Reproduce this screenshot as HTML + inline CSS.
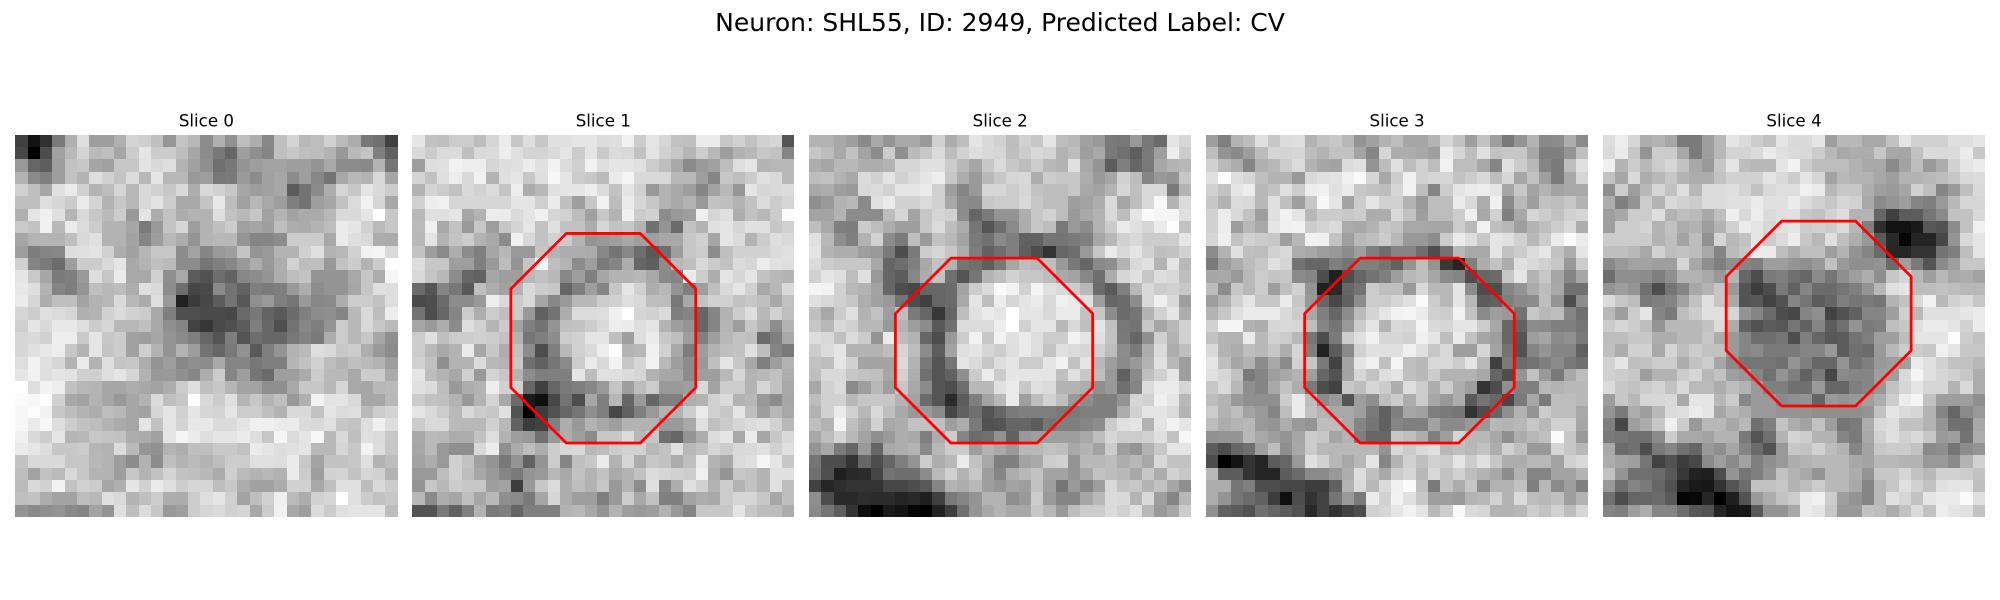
<!DOCTYPE html>
<html>
<head>
<meta charset="utf-8">
<title>Neuron slices</title>
<style>
html,body{margin:0;padding:0;background:#fff;width:2000px;height:600px;overflow:hidden}
svg{display:block}
text{font-family:"DejaVu Sans",sans-serif;fill:#000}
</style>
</head>
<body>
<svg id="figure" xmlns="http://www.w3.org/2000/svg" width="2000" height="600" viewBox="0 0 2000 600">
<rect x="0" y="0" width="2000" height="600" fill="#fff"/>
<text x="1000" y="31" text-anchor="middle" font-size="25">Neuron: SHL55, ID: 2949, Predicted Label: CV</text>
</svg>
<script>
const sliceTitles=["Slice 0","Slice 1","Slice 2","Slice 3","Slice 4"];
const slice0=[
[25,7,19,48,69,87,62,62,69,83,81,75,59,77,72,55,69,57,74,68,53,75,83,72,74,82,73,68,47,44,25],
[28,0,30,63,72,83,73,75,65,80,90,80,80,74,65,55,47,40,62,56,52,75,78,75,74,70,60,73,77,50,38],
[60,40,37,62,76,78,65,63,78,78,89,85,87,70,63,56,44,47,58,62,64,64,62,62,58,66,55,55,54,70,46],
[70,54,50,62,76,70,87,82,77,86,72,90,72,72,60,62,47,48,60,55,63,66,55,62,53,45,66,72,70,85,65],
[82,75,65,88,92,82,70,74,84,72,85,82,78,85,68,85,82,78,65,62,63,66,36,45,54,68,84,78,90,85,80],
[75,75,87,84,80,92,83,70,78,72,85,89,80,66,66,77,91,74,63,72,66,62,50,45,62,65,76,86,95,84,66],
[69,90,94,88,71,85,78,73,80,60,90,68,76,68,70,70,87,76,72,78,63,70,64,67,67,72,85,85,90,100,78],
[79,76,94,72,92,86,80,70,70,65,48,60,77,84,62,70,75,80,63,65,62,74,68,67,70,74,92,90,82,73,78],
[65,70,70,70,75,85,88,70,70,64,52,62,72,68,58,70,72,72,58,52,52,55,80,80,80,66,92,87,85,68,67],
[62,49,52,53,87,88,89,82,68,63,71,78,78,55,64,52,60,62,77,58,60,70,70,82,88,70,72,82,95,96,85],
[82,52,48,42,62,80,80,85,90,66,70,75,73,55,55,46,50,53,60,68,60,68,82,74,75,60,76,80,70,80,100],
[90,79,65,48,50,60,87,78,92,66,66,82,56,66,36,32,43,39,53,55,58,68,74,77,58,58,58,66,78,68,96],
[91,87,70,52,49,58,75,72,74,68,88,85,55,43,28,29,54,45,39,50,48,50,60,68,55,58,58,65,78,88,87],
[92,84,68,75,75,64,70,72,85,72,67,87,60,13,23,28,36,45,34,56,60,50,46,60,53,54,68,80,80,76,87],
[84,80,88,86,84,69,70,82,86,82,80,66,50,31,31,29,29,28,41,47,39,35,42,50,55,56,52,72,85,74,93],
[81,90,85,91,91,87,80,84,72,72,75,66,56,52,26,21,29,31,36,50,40,31,45,53,50,58,80,72,85,78,73],
[84,85,82,93,93,79,90,78,80,63,62,65,58,54,50,40,33,49,33,43,40,40,47,51,48,68,80,72,78,65,56],
[84,88,91,93,78,70,90,77,80,63,81,70,58,70,61,45,40,47,57,35,50,58,70,73,87,85,78,80,68,60,55],
[87,95,88,84,70,92,70,87,77,78,68,58,62,53,56,55,66,52,52,47,50,50,71,76,82,74,70,75,73,70,62],
[90,95,87,90,89,81,81,87,90,84,70,60,60,56,53,68,80,52,62,46,42,62,62,67,80,73,72,66,80,80,67],
[100,87,95,93,76,72,71,65,65,68,66,64,68,80,87,75,78,71,64,64,56,56,66,78,78,72,84,66,65,72,73],
[98,97,99,82,66,64,70,65,60,65,70,86,75,78,100,85,80,88,71,78,70,75,60,69,95,89,90,85,65,65,72],
[97,99,95,78,74,70,68,74,72,65,64,84,90,82,90,84,83,90,80,80,75,70,85,85,76,90,86,87,73,80,83],
[97,92,97,87,80,76,74,70,67,65,90,76,90,83,91,91,86,86,90,94,94,92,92,86,85,88,78,76,87,94,87],
[94,85,80,90,71,72,78,77,76,68,67,63,90,96,92,87,90,90,92,87,78,96,86,90,97,72,85,75,88,86,78],
[92,90,87,78,78,80,71,70,86,73,59,57,70,68,75,75,79,79,76,92,90,87,88,90,72,72,84,78,95,87,78],
[76,85,85,85,78,78,72,70,62,55,70,55,75,70,73,70,74,80,80,88,88,87,92,78,64,76,76,78,88,70,74],
[74,64,76,73,85,78,70,70,62,78,70,76,83,76,75,72,67,81,73,70,72,70,92,80,62,82,83,76,84,82,70],
[73,85,82,95,76,82,80,65,69,90,82,92,87,80,84,84,74,78,68,63,63,68,82,82,66,75,88,88,74,85,80],
[75,76,68,64,64,74,72,88,85,70,75,80,68,67,80,87,90,82,64,75,82,94,73,68,82,84,100,88,80,76,78],
[58,54,56,58,54,52,64,58,88,75,86,78,60,62,80,84,86,82,84,66,80,95,66,62,86,80,88,90,90,90,74]
];
const slice1=[
[90,76,75,80,80,74,84,92,78,87,78,88,88,90,90,86,87,94,80,90,84,76,75,92,92,78,82,76,82,84,33],
[85,80,86,86,75,85,86,93,88,83,83,86,90,80,90,79,86,85,76,89,82,78,71,80,72,62,70,72,78,76,52],
[62,87,88,95,93,93,84,87,88,93,88,95,86,81,95,87,90,90,88,80,75,66,54,60,63,74,87,90,70,72,72],
[83,76,87,93,85,95,70,88,90,78,87,97,90,80,78,73,92,96,85,85,85,72,72,62,52,78,75,80,88,85,72],
[70,83,80,76,85,82,86,77,93,68,72,88,90,90,93,86,76,90,82,60,70,66,62,52,64,72,59,90,84,85,86],
[82,93,94,84,84,84,84,84,90,90,81,92,75,62,78,95,74,92,84,78,70,66,70,60,76,75,70,76,86,80,84],
[72,88,88,90,65,70,93,92,86,90,94,84,82,74,63,78,70,94,80,82,55,60,62,94,84,88,68,76,72,80,99],
[73,94,66,76,60,78,62,78,83,90,76,88,76,76,68,84,76,78,70,44,58,42,76,70,88,90,84,88,88,78,82],
[72,90,70,77,80,70,66,55,94,85,76,82,80,70,58,60,62,66,62,62,66,66,78,82,65,90,86,70,80,87,85],
[76,62,54,68,55,50,65,72,60,60,78,70,68,68,67,53,46,53,43,35,43,62,78,80,55,75,82,82,82,86,88],
[87,78,78,62,62,50,60,74,58,78,95,75,70,55,62,48,52,68,40,37,55,72,75,85,80,76,86,84,92,88,87],
[85,77,72,55,40,38,65,62,62,72,76,72,53,62,50,65,70,70,72,66,54,52,92,80,68,90,84,90,76,72,70],
[42,33,52,47,35,75,68,63,70,85,80,78,40,50,62,52,78,90,82,68,72,58,50,62,75,85,90,82,66,72,85],
[29,30,42,55,55,60,93,85,80,85,65,53,60,72,72,80,82,87,85,74,74,47,66,76,82,82,76,78,75,66,76],
[45,30,40,52,80,68,80,75,80,60,38,45,68,86,86,87,94,100,84,82,86,50,52,40,52,70,80,87,72,82,75],
[65,60,68,55,87,82,71,80,64,50,45,58,75,76,80,85,93,92,87,90,70,62,58,40,52,71,62,78,70,55,70],
[80,88,75,80,80,82,80,76,70,46,50,55,80,82,90,90,75,62,87,92,78,75,62,50,62,72,76,75,42,50,66],
[80,72,66,70,92,65,78,68,76,55,30,50,72,82,85,93,99,70,72,94,82,66,49,62,70,75,76,88,74,52,48],
[82,76,56,70,70,86,72,70,78,44,38,46,54,80,92,85,95,78,84,95,72,62,55,60,75,90,78,66,50,62,70],
[90,74,70,66,82,60,83,78,70,55,50,50,50,90,74,88,88,86,84,70,66,65,55,62,62,72,84,70,72,76,68],
[88,86,74,60,68,70,93,82,82,40,25,40,48,50,53,60,77,62,74,80,60,60,62,85,64,80,80,70,84,76,66],
[80,76,75,70,60,70,83,66,42,10,6,28,45,30,65,50,72,40,60,40,50,50,68,70,82,86,70,72,60,55,65],
[90,85,80,72,85,80,78,88,32,0,24,32,40,46,56,50,28,38,50,60,70,70,80,92,82,78,90,75,62,72,66],
[80,85,85,73,72,72,82,72,38,23,25,50,68,60,70,66,62,70,70,70,60,60,66,88,75,80,84,86,88,82,72],
[66,73,72,68,68,76,87,70,62,60,44,60,68,62,54,78,78,86,72,78,44,40,58,68,86,90,66,92,65,78,85],
[65,72,60,56,56,85,93,56,67,74,68,80,84,85,72,74,80,82,82,72,76,88,72,76,84,80,85,85,88,82,88],
[64,68,60,82,76,63,58,47,58,38,58,80,52,75,78,92,70,84,68,78,76,68,75,92,70,66,86,88,96,90,78],
[60,60,74,82,74,66,60,52,48,58,60,72,66,76,70,76,67,70,76,86,84,82,80,94,68,58,78,76,70,88,88],
[58,78,72,80,78,78,62,64,24,60,78,86,68,74,70,78,60,70,55,88,52,68,88,82,70,80,70,76,70,88,74],
[72,54,68,65,75,65,72,56,54,48,65,84,68,62,62,50,60,80,66,76,50,50,64,68,66,80,84,84,78,65,74],
[32,32,48,38,50,70,48,50,40,50,50,50,70,72,66,58,70,62,60,62,70,60,52,78,78,78,90,78,74,74,68]
];
const slice2=[
[70,70,66,62,54,66,58,66,66,60,82,68,74,90,85,82,74,82,78,90,74,72,63,60,48,47,60,47,42,90,84],
[78,74,66,76,64,55,80,56,73,78,86,74,82,87,85,84,75,80,85,83,70,74,62,66,48,44,37,48,62,93,80],
[68,65,72,72,68,68,70,84,84,88,88,80,72,65,78,85,78,74,80,72,70,88,66,58,36,50,40,48,66,70,72],
[74,76,70,66,86,82,90,82,86,90,93,78,68,60,72,78,84,85,68,80,78,78,68,60,65,82,74,52,60,58,78],
[66,68,62,60,85,86,82,90,90,92,82,62,52,60,84,84,80,84,76,74,74,78,66,64,70,84,75,85,85,48,70],
[56,60,70,72,54,88,92,82,82,86,82,66,55,54,78,80,80,85,78,74,74,62,64,68,86,65,74,85,97,70,86],
[64,64,70,55,55,55,74,84,64,78,84,82,55,40,48,58,58,68,78,82,74,60,66,70,85,74,90,98,96,96,88],
[74,66,50,49,80,74,68,62,62,78,86,74,67,46,33,43,54,68,78,74,47,60,55,70,80,92,88,84,92,99,76],
[88,72,56,50,70,82,55,48,75,60,76,72,64,48,44,54,50,38,38,46,46,48,50,65,72,82,85,80,80,80,90],
[90,70,68,68,62,60,48,30,48,80,84,78,68,49,38,43,50,37,30,20,40,43,60,78,92,85,90,82,75,76,82],
[86,80,78,78,78,66,40,43,50,66,76,70,46,43,37,47,65,74,72,74,60,47,40,54,56,70,85,88,70,90,72],
[82,90,87,74,88,60,40,36,53,68,76,44,33,46,70,75,82,78,78,74,66,64,53,43,68,84,88,78,87,85,75],
[96,95,82,72,70,64,40,30,28,40,40,42,64,80,86,98,95,82,96,88,85,80,72,42,35,50,72,85,80,82,78],
[88,85,82,78,68,63,60,45,30,25,40,42,66,90,74,93,84,90,92,85,94,92,88,62,40,42,55,85,94,85,62],
[75,66,80,88,70,76,62,74,48,40,22,40,74,88,92,90,100,90,90,85,92,92,76,78,55,42,46,70,82,90,68],
[78,72,85,82,72,72,60,70,62,55,35,44,86,86,86,93,100,82,90,90,72,85,75,90,76,47,45,78,65,72,82],
[87,85,75,86,80,58,92,74,70,40,30,60,80,95,78,95,88,92,87,80,80,95,90,88,76,48,40,56,82,70,82],
[80,86,90,70,70,70,74,84,74,55,37,64,88,90,84,80,87,92,87,77,88,86,84,82,74,55,48,68,86,68,75],
[76,74,90,82,64,64,64,86,70,47,33,46,90,86,78,87,90,80,80,90,95,76,90,72,62,54,60,70,88,72,62],
[75,85,85,78,76,75,65,82,68,44,33,38,56,80,92,80,90,90,90,90,75,88,78,75,60,38,54,75,82,90,62],
[66,82,86,54,62,72,62,78,66,54,33,30,43,72,72,88,92,78,88,86,70,70,68,56,60,44,52,86,92,92,84],
[74,82,82,72,78,78,78,70,64,42,33,17,36,50,64,72,92,62,74,82,75,60,55,50,50,58,84,82,94,90,72],
[70,82,92,82,72,85,75,66,60,60,54,28,38,44,33,40,48,50,50,50,48,48,50,50,50,68,82,90,90,86,70],
[75,70,96,75,68,82,66,68,76,76,75,62,68,48,32,33,40,40,36,46,50,50,52,55,80,88,90,70,90,95,90],
[66,74,83,72,64,56,60,68,66,50,68,80,52,42,44,57,38,60,62,62,62,62,66,74,84,80,80,82,88,76,97],
[58,66,48,40,60,40,66,68,70,54,72,80,80,62,70,66,60,72,72,76,74,66,70,64,80,62,58,70,78,90,90],
[46,30,30,20,40,30,40,50,58,80,68,72,92,76,66,50,50,64,66,80,82,58,72,72,74,68,72,66,85,76,76],
[44,31,12,16,17,27,45,43,43,55,73,82,70,78,62,52,68,72,76,64,64,58,66,76,74,72,66,78,68,82,78],
[26,15,18,20,20,20,28,28,30,35,52,70,68,72,62,58,64,62,76,62,46,60,52,62,85,76,78,70,76,65,56],
[56,30,16,16,18,17,17,14,16,12,25,48,52,58,70,70,56,60,80,60,52,52,65,72,86,85,70,85,62,52,72],
[54,46,37,20,5,0,10,8,2,0,13,24,44,58,66,70,66,66,78,72,60,74,80,80,86,82,88,72,60,65,80]
];
const slice3=[
[62,50,70,74,88,78,86,87,70,76,78,72,58,63,70,74,65,65,70,84,76,62,76,62,47,58,70,54,55,68,54],
[74,58,54,62,74,84,83,84,74,70,76,76,64,52,84,68,68,66,62,92,84,74,88,76,78,78,66,50,50,58,75],
[82,73,68,52,69,72,80,86,70,65,64,86,88,58,74,88,74,82,74,95,74,74,66,52,88,80,72,52,48,74,88],
[88,99,87,84,75,70,70,60,85,88,89,94,98,84,66,80,94,82,84,84,76,80,85,74,84,65,76,62,48,66,84],
[82,76,90,93,72,76,88,80,93,94,88,92,78,76,74,84,95,74,52,80,90,92,93,90,65,78,64,70,64,66,66],
[78,70,86,85,72,88,75,62,78,97,90,64,80,90,82,82,70,60,74,74,92,85,68,94,54,72,62,76,74,78,70],
[82,93,85,76,62,88,95,90,72,80,80,78,80,68,68,85,76,62,74,74,80,94,66,82,50,66,84,80,76,82,84],
[82,93,62,72,66,90,94,95,80,83,86,67,66,70,78,76,66,66,65,65,80,72,95,75,72,62,70,75,80,85,68],
[84,94,76,82,80,78,62,72,95,94,76,62,72,75,80,72,60,60,55,80,92,87,78,90,88,82,72,80,92,98,92],
[55,70,88,75,74,82,85,68,66,62,60,55,62,50,43,52,52,43,30,45,72,66,66,90,76,80,86,90,76,68,90],
[48,62,68,74,78,88,83,45,40,40,50,46,50,50,46,38,58,75,58,22,14,50,68,76,68,88,85,82,78,60,80],
[65,66,60,72,80,77,78,54,52,30,13,30,40,45,50,62,72,75,65,54,52,30,40,42,78,90,70,78,65,52,65],
[74,55,78,72,80,62,75,82,58,13,16,40,45,80,75,75,60,85,72,72,90,55,30,30,52,58,67,74,66,44,44],
[62,70,82,90,78,78,92,78,60,40,28,38,55,80,80,84,88,98,80,72,90,72,36,38,50,54,55,75,58,30,55],
[70,78,88,92,92,92,85,80,66,50,40,55,73,83,90,95,96,92,82,80,95,76,54,62,60,45,78,72,74,52,44],
[82,96,96,70,68,84,85,84,75,52,46,60,80,90,70,85,84,96,85,84,90,90,80,66,40,38,55,54,50,50,46],
[76,70,70,92,72,82,80,72,46,30,48,80,88,94,84,84,82,94,90,74,92,76,65,62,40,33,62,65,54,57,48],
[85,70,68,75,72,78,68,84,50,13,36,54,82,88,88,88,94,88,78,85,62,62,84,64,45,32,52,58,52,52,38],
[90,75,65,70,55,66,54,82,78,48,26,64,90,94,75,96,75,72,85,85,80,90,72,25,48,42,45,50,54,47,44],
[88,84,76,48,52,62,66,70,62,40,32,64,84,76,87,90,75,72,80,70,70,70,66,40,30,58,76,60,48,66,74],
[78,85,72,56,52,66,76,68,48,30,26,78,74,84,80,68,87,80,68,80,68,62,20,30,56,50,50,72,70,72,72],
[74,70,60,56,56,56,80,92,74,54,60,33,62,56,74,80,68,80,65,60,68,35,46,40,28,48,66,48,74,74,72],
[80,70,74,64,60,52,74,92,76,70,66,66,62,48,38,50,65,63,50,48,46,20,30,40,56,70,58,80,74,74,66],
[74,68,70,72,60,58,68,60,58,74,74,66,52,46,38,52,50,50,64,54,54,60,60,72,70,72,78,72,82,82,65],
[57,58,58,72,66,62,58,65,80,78,65,70,50,40,40,78,75,68,50,62,84,72,72,66,56,68,72,75,98,78,60],
[36,30,40,44,62,74,56,66,80,72,72,72,72,72,58,85,80,85,88,72,75,72,76,68,82,75,60,60,84,78,72],
[30,0,8,20,14,36,40,60,88,82,72,66,72,90,52,70,82,75,82,80,90,80,88,78,68,68,72,72,64,82,85],
[72,36,36,20,14,14,36,42,54,54,60,68,87,75,66,80,84,72,85,76,82,74,70,66,55,70,52,52,64,64,70],
[68,68,46,50,30,30,28,28,24,24,38,70,86,72,86,94,98,75,48,76,68,78,55,70,70,76,50,72,54,62,50],
[68,58,46,42,38,24,6,30,20,26,46,60,48,92,82,95,88,78,62,62,60,70,72,82,70,86,74,72,75,62,70],
[56,38,36,32,44,40,36,32,16,26,20,26,30,82,84,90,95,90,72,80,98,86,84,70,70,72,80,76,82,74,84]
];
const slice4=[
[87,93,84,68,70,65,48,48,62,72,90,86,80,76,90,85,85,90,62,72,72,66,66,76,90,82,82,82,87,87,90],
[86,92,78,58,80,80,66,48,62,72,83,83,86,92,88,86,85,80,72,66,68,68,78,66,65,76,86,85,86,92,78],
[94,70,80,72,80,84,76,66,60,78,90,74,72,72,90,95,80,74,74,74,70,66,66,54,64,74,60,68,82,90,92],
[76,65,85,68,72,78,70,68,68,76,82,82,82,90,85,80,90,84,64,72,70,70,66,62,70,70,72,74,78,85,86],
[56,80,62,72,84,76,87,72,86,86,87,83,76,85,87,87,94,92,72,78,78,68,62,60,65,82,75,52,60,75,85],
[68,50,58,80,70,85,82,80,86,86,88,88,92,88,88,92,86,82,78,84,82,66,54,58,62,52,50,60,72,84,84],
[62,66,80,80,87,70,75,73,66,75,94,85,93,86,88,88,78,76,82,87,70,70,40,25,36,36,46,54,76,76,85],
[62,80,80,83,70,76,68,70,62,70,82,92,90,84,88,90,80,82,80,86,72,50,18,7,7,10,34,32,55,76,94],
[80,80,80,80,70,75,64,74,57,84,72,76,90,80,86,93,78,72,88,75,68,60,35,16,2,14,14,28,58,85,90],
[75,75,72,66,82,74,76,74,66,52,73,78,92,92,74,68,75,75,62,70,58,52,42,15,15,20,20,45,50,74,90],
[54,60,64,64,62,62,84,66,56,50,56,52,50,62,62,58,56,60,76,60,56,56,58,42,62,48,33,54,62,78,78],
[43,56,56,55,50,56,70,70,66,60,70,40,30,48,50,44,40,54,46,56,62,68,56,78,84,72,62,72,66,68,64],
[58,62,58,44,30,46,52,66,70,78,60,33,24,30,48,38,52,42,42,46,50,58,72,88,90,74,74,76,74,72,72],
[86,78,74,48,50,52,64,76,88,78,66,33,34,26,32,52,46,36,40,50,46,48,46,70,76,85,95,72,82,85,78],
[72,62,80,90,52,48,74,80,88,88,84,58,52,42,30,28,52,56,26,32,38,52,52,62,82,72,88,88,88,90,92],
[80,84,80,74,58,72,72,72,76,86,68,38,32,36,34,46,38,52,36,44,58,48,50,75,78,88,92,92,90,82,92],
[74,74,78,78,68,68,72,72,78,68,60,52,43,43,46,30,50,40,34,36,45,50,62,62,74,90,90,90,99,80,76],
[75,68,82,82,66,84,74,80,76,76,60,52,54,48,48,48,52,52,60,36,44,42,60,72,80,80,78,94,90,78,78],
[82,90,75,76,80,80,68,76,80,65,54,46,46,46,44,58,50,40,40,58,45,50,60,62,62,92,88,82,76,76,72],
[82,80,78,62,70,70,80,84,72,76,62,60,52,44,58,50,38,48,28,54,52,52,62,62,85,96,88,84,82,78,68],
[86,78,76,80,83,76,85,73,73,68,74,70,60,50,50,44,44,60,40,40,50,52,60,76,84,90,84,84,70,85,68],
[62,78,72,84,84,85,66,90,90,72,80,53,60,60,54,56,58,40,60,58,60,62,68,80,93,96,76,62,62,62,56],
[58,48,68,62,72,86,87,92,90,65,72,68,60,60,58,58,58,56,56,56,56,58,76,90,86,84,70,52,40,54,60],
[50,28,62,68,78,94,80,60,72,72,66,72,44,50,76,68,64,76,62,46,48,68,85,87,76,76,70,58,44,44,66],
[48,46,44,44,54,80,66,66,64,70,70,48,33,44,70,83,80,70,70,52,48,66,82,88,82,85,78,60,62,45,68],
[66,42,44,30,48,52,44,40,60,56,65,52,42,32,60,78,76,82,74,70,52,64,78,80,80,76,54,56,46,55,58],
[68,64,62,46,26,32,24,28,54,62,54,64,50,56,60,68,70,72,72,72,66,64,72,72,70,70,60,60,54,70,82],
[76,58,44,44,42,35,22,13,12,30,58,46,50,58,76,70,66,58,72,72,68,58,78,78,84,76,72,82,82,80,76],
[60,44,52,48,40,32,14,10,9,20,33,42,76,76,78,70,74,80,72,72,66,52,72,78,88,82,76,88,90,90,75],
[44,30,40,40,42,35,2,3,15,0,12,32,60,68,76,80,92,94,80,62,58,52,72,88,84,76,90,92,92,98,88],
[52,50,62,68,52,52,43,34,32,14,8,9,35,58,58,66,92,90,78,60,60,76,74,68,76,86,76,93,90,88,76]
];
const sliceImages=[slice0,slice1,slice2,slice3,slice4];
/* Octagon vertices in image-cell units; slice 0 has no contour */
const contourX=[null,
[12.5,18.5,23,23,18.5,12.5,8,8],
[11.5,18.5,23,23,18.5,11.5,7,7],
[12.5,20.5,25,25,20.5,12.5,8,8],
[14.5,20.5,25,25,20.5,14.5,10,10]];
const contourY=[null,
[8,8,12.5,20.5,25,25,20.5,12.5],
[10,10,14.5,20.5,25,25,20.5,14.5],
[10,10,14.5,20.5,25,25,20.5,14.5],
[7,7,11.5,17.5,22,22,17.5,11.5]];

const NS='http://www.w3.org/2000/svg';
const svg=document.getElementById('figure');
const axesLeft=15.3,axesStep=396.9,axesTop=134.8,axesSize=382.2,gridSize=31;
function xAxis(panel,col){return axesLeft+axesStep*panel+col*axesSize/gridSize;}
function yAxis(row){return axesTop+row*axesSize/gridSize;}
function grayOf(v){const g=Math.round(Math.max(0,Math.min(100,v))*2.55);return 'rgb('+g+','+g+','+g+')';}

sliceImages.forEach(function(image,p){
  const group=document.createElementNS(NS,'g');
  
  
  svg.appendChild(group);

  const title=document.createElementNS(NS,'text');
  
  
  title.setAttribute('x',xAxis(p,gridSize/2));
  title.setAttribute('y',126.7);
  title.setAttribute('text-anchor','middle');
  title.setAttribute('font-size','16.67');
  title.textContent=sliceTitles[p];
  group.appendChild(title);

  const heat=document.createElementNS(NS,'g');
  
  
  heat.setAttribute('shape-rendering','crispEdges');
  group.appendChild(heat);

  image.forEach(function(rowValues,r){
    rowValues.forEach(function(v,c){
      const x0=Math.round(xAxis(p,c)),x1=Math.round(xAxis(p,c+1));
      const y0=Math.round(yAxis(r)),y1=Math.round(yAxis(r+1));
      const cell=document.createElementNS(NS,'rect');
      
      
      cell.setAttribute('x',x0);
      cell.setAttribute('y',y0);
      cell.setAttribute('width',x1-x0);
      cell.setAttribute('height',y1-y0);
      cell.setAttribute('fill',grayOf(v));
      heat.appendChild(cell);
    });
  });

  if(contourX[p]){
    const poly=document.createElementNS(NS,'polygon');
    
    
    poly.setAttribute('points',contourX[p].map(function(x,i){
      return xAxis(p,x).toFixed(2)+','+yAxis(contourY[p][i]).toFixed(2);
    }).join(' '));
    poly.setAttribute('fill','none');
    poly.setAttribute('stroke','#ff0000');
    poly.setAttribute('stroke-width','2.78');
    poly.setAttribute('stroke-linejoin','round');
    group.appendChild(poly);
  }
});
</script>
</body>
</html>
